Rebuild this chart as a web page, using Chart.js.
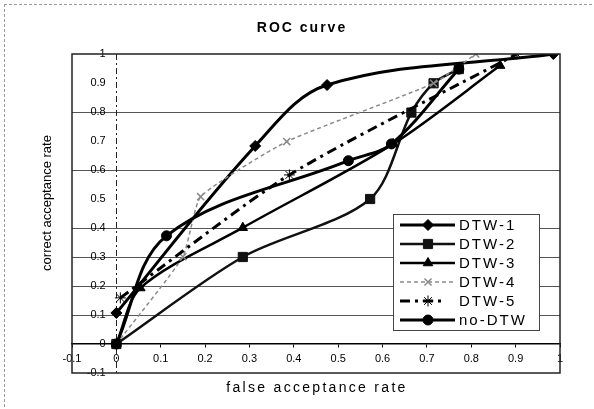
<!DOCTYPE html>
<html><head><meta charset="utf-8">
<script src="https://cdn.jsdelivr.net/npm/chart.js@4/dist/chart.umd.min.js"></script>
<style>html,body{margin:0;padding:0;background:#fff}canvas{display:block}</style>
</head><body>
<canvas id="c" width="594" height="409"></canvas>
<script>
// ---- data ----
const chartTitle = 'ROC curve';
const xTitle = 'false acceptance rate';
const yTitle = 'correct acceptance rate';
const seriesNames = ['DTW-1', 'DTW-2', 'DTW-3', 'DTW-4', 'DTW-5', 'no-DTW'];
const dtw1X = [0, 0.313, 0.475, 0.985];
const dtw1Y = [0.107, 0.683, 0.893, 1.0];
const dtw2X = [0, 0.285, 0.572, 0.665, 0.715, 0.772];
const dtw2Y = [0, 0.30, 0.50, 0.798, 0.899, 0.948];
const dtw3X = [0, 0.054, 0.285, 0.624, 0.865];
const dtw3Y = [0, 0.193, 0.401, 0.69, 0.96];
const dtw4X = [0, 0.15, 0.19, 0.384, 0.715, 0.81];
const dtw4Y = [0, 0.301, 0.508, 0.698, 0.899, 1.0];
const dtw5X = [0.009, 0.39, 0.903];
const dtw5Y = [0.159, 0.583, 1.0];
const noDtwX = [0, 0.113, 0.523, 0.62, 0.772];
const noDtwY = [0, 0.373, 0.632, 0.69, 0.948];
const xTicks = [-0.1, 0, 0.1, 0.2, 0.3, 0.4, 0.5, 0.6, 0.7, 0.8, 0.9, 1];
const yTicks = [-0.1, 0, 0.1, 0.2, 0.3, 0.4, 0.5, 0.6, 0.7, 0.8, 0.9, 1];
const yGridShown = [0.1, 0.2, 0.3, 0.4, 0.6, 0.8];

const seriesX = [dtw1X, dtw2X, dtw3X, dtw4X, dtw5X, noDtwX];
const seriesY = [dtw1Y, dtw2Y, dtw3Y, dtw4Y, dtw5Y, noDtwY];

// ---- styles ----
const styles = [
  {color:'#000', width:3, dash:[], point:'rectRot', r:5.5, tension:0.35},
  {color:'#111', width:2.5, dash:[], point:'rect', r:6.5, tension:0.3},
  {color:'#000', width:2.5, dash:[], point:'triangle', r:5.5, tension:0.3},
  {color:'#8a8a8a', width:1.5, dash:[4,3], point:'crossRot', r:5, tension:0.15},
  {color:'#000', width:3, dash:[10,5,3,5], point:'star', r:5.5, tension:0.25},
  {color:'#000', width:3, dash:[], point:'circle', r:5, tension:0.35}
];

const datasets = seriesNames.map((name, i) => ({
  label: name,
  data: seriesX[i].map((x, k) => ({x: x, y: seriesY[i][k]})),
  showLine: true,
  borderColor: styles[i].color,
  backgroundColor: styles[i].color,
  borderWidth: styles[i].width,
  borderDash: styles[i].dash,
  tension: styles[i].tension,
  pointStyle: styles[i].point,
  pointRadius: styles[i].r,
  pointHoverRadius: styles[i].r,
  pointBackgroundColor: styles[i].color,
  pointBorderColor: styles[i].color,
  pointBorderWidth: i === 3 ? 1.5 : 1,
  order: 6 - i
}));

const FONT = '"Liberation Sans", Arial, sans-serif';

const decor = {
  id: 'decor',
  beforeDraw(chart) {
    const ctx = chart.ctx;
    ctx.save();
    ctx.fillStyle = '#fff';
    ctx.fillRect(0, 0, chart.width, chart.height);
    ctx.strokeStyle = '#9a9a9a';
    ctx.lineWidth = 1;
    ctx.setLineDash([3, 2]);
    ctx.beginPath();
    ctx.moveTo(4.5, 4); ctx.lineTo(4.5, chart.height);
    ctx.moveTo(4, 4.5); ctx.lineTo(chart.width, 4.5);
    ctx.stroke();
    ctx.restore();
  },
  beforeDatasetsDraw(chart) {
    const ctx = chart.ctx, a = chart.chartArea;
    const x0 = Math.round(chart.scales.x.getPixelForValue(0)) + 0.5;
    ctx.save();
    ctx.strokeStyle = '#222';
    ctx.lineWidth = 1;
    ctx.setLineDash([6, 3, 2, 3]);
    ctx.beginPath();
    ctx.moveTo(x0, a.top); ctx.lineTo(x0, a.bottom);
    ctx.stroke();
    ctx.restore();
  },
  afterDraw(chart) {
    const ctx = chart.ctx, a = chart.chartArea;
    ctx.save();
    // plot frame
    ctx.strokeStyle = '#222';
    ctx.lineWidth = 1.5;
    ctx.strokeRect(a.left, a.top, a.right - a.left, a.bottom - a.top);
    // titles
    ctx.fillStyle = '#000';
    ctx.textBaseline = 'middle';
    ctx.textAlign = 'center';
    ctx.font = 'bold 14px ' + FONT;
    ctx.letterSpacing = '2px';
    ctx.fillText(chartTitle, 302, 28);
    ctx.font = '14px ' + FONT;
    ctx.letterSpacing = '2.3px';
    ctx.fillText(xTitle, 317, 388);
    ctx.letterSpacing = '0px';
    ctx.font = '13px ' + FONT;
    ctx.save();
    ctx.translate(47, 203);
    ctx.rotate(-Math.PI / 2);
    ctx.fillText(yTitle, 0, 0);
    ctx.restore();
    // legend
    const lx = 393, ly = 214, lw = 146, lh = 116;
    ctx.fillStyle = '#fff';
    ctx.fillRect(lx, ly, lw, lh);
    ctx.strokeStyle = '#444';
    ctx.lineWidth = 1;
    ctx.setLineDash([]);
    ctx.strokeRect(lx + 0.5, ly + 0.5, lw, lh);
    chart.data.datasets.forEach((ds, i) => {
      const y = ly + 11 + i * 19;
      const st = styles[i];
      ctx.strokeStyle = st.color;
      ctx.fillStyle = st.color;
      ctx.lineWidth = st.width;
      ctx.setLineDash(st.dash);
      ctx.beginPath();
      ctx.moveTo(400, y); ctx.lineTo(i === 4 ? 446 : 455, y);
      ctx.stroke();
      ctx.setLineDash([]);
      ctx.lineWidth = i === 3 ? 1.5 : 1;
      if (Chart.helpers && Chart.helpers.drawPoint) {
        Chart.helpers.drawPoint(ctx, {pointStyle: st.point, radius: st.r, rotation: 0, borderWidth: ctx.lineWidth}, 428, y);
      } else {
        ctx.beginPath(); ctx.arc(428, y, st.r, 0, Math.PI * 2); ctx.fill();
      }
      ctx.fillStyle = '#000';
      ctx.textAlign = 'left';
      ctx.font = '15px ' + FONT;
      ctx.letterSpacing = '2px';
      ctx.fillText(ds.label, 459, y + 1);
      ctx.letterSpacing = '0px';
    });
    ctx.restore();
  }
};

new Chart(document.getElementById('c'), {
  type: 'scatter',
  data: {datasets: datasets},
  options: {
    responsive: false,
    animation: false,
    devicePixelRatio: 1,
    layout: {padding: {left: 72, right: 34, top: 54, bottom: 36}},
    plugins: {legend: {display: false}, title: {display: false}, tooltip: {enabled: false}},
    scales: {
      x: {
        type: 'linear', min: -0.1, max: 1,
        position: {y: 0},
        afterFit(s) { s.height = 0; },
        afterBuildTicks(s) { s.ticks = xTicks.map(v => ({value: v})); },
        grid: {display: true, drawOnChartArea: false, drawTicks: true, tickLength: 3, color: '#000'},
        border: {display: true, color: '#000', width: 1.5},
        ticks: {color: '#000', padding: 5, font: {family: FONT, size: 11}, maxRotation: 0, autoSkip: false,
          callback: v => String(v)}
      },
      y: {
        type: 'linear', min: -0.1, max: 1,
        position: {x: -0.024},
        afterFit(s) { s.width = 0; },
        afterBuildTicks(s) { s.ticks = yTicks.map(v => ({value: v})); },
        grid: {display: true, drawTicks: false, lineWidth: 1,
          color: c => yGridShown.some(g => Math.abs(g - c.tick.value) < 1e-6) ? '#555' : 'rgba(0,0,0,0)'},
        border: {display: false},
        ticks: {color: '#000', padding: 0, font: {family: FONT, size: 11}, autoSkip: false,
          callback: v => String(v)}
      }
    }
  },
  plugins: [decor]
});
</script>
</body></html>
